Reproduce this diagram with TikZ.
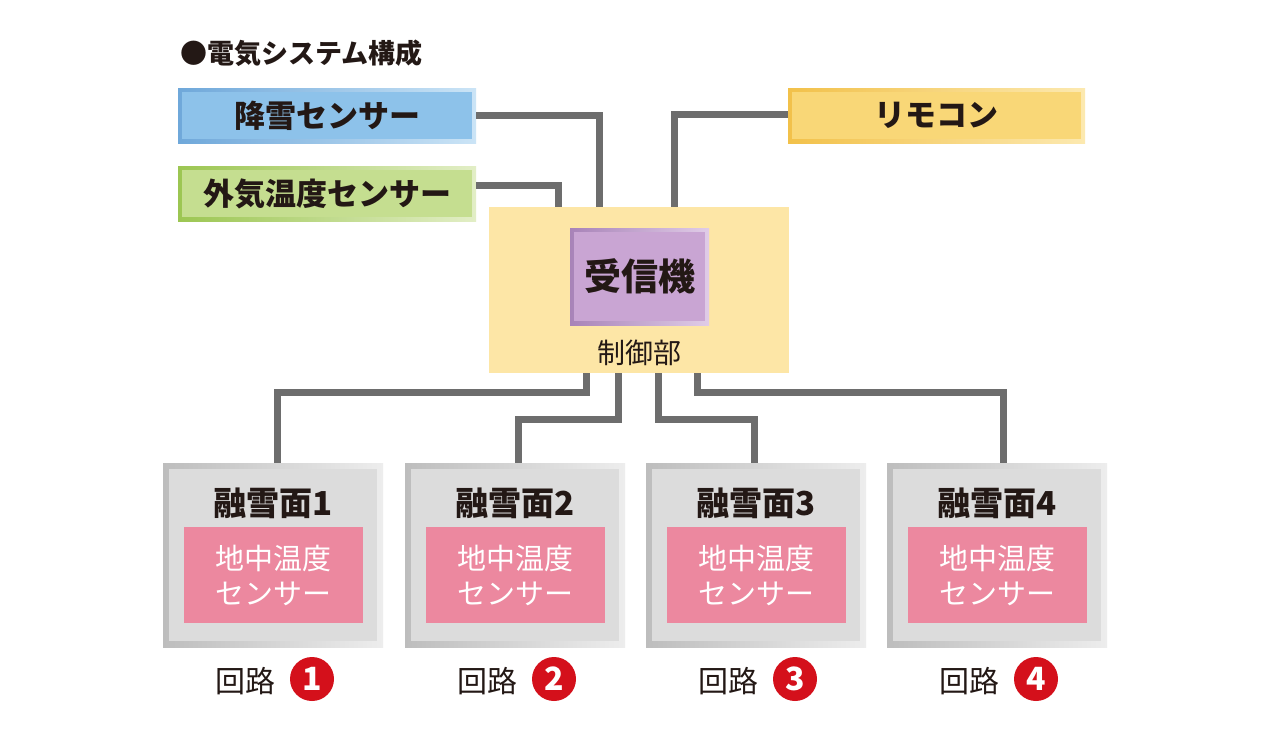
\documentclass[tikz,border=0pt]{standalone}
\usepackage{fontspec}
\setmainfont{Noto Sans CJK JP}
\usetikzlibrary{calc}
\definecolor{snowM}{HTML}{8DC2EA}
\definecolor{snowD}{HTML}{6FA8DA}
\definecolor{snowL}{HTML}{CBE4F6}
\definecolor{outM}{HTML}{C5DE90}
\definecolor{outD}{HTML}{9CC652}
\definecolor{outL}{HTML}{E2EEC6}
\definecolor{remM}{HTML}{F9D777}
\definecolor{remD}{HTML}{F2C14A}
\definecolor{remL}{HTML}{FCE9B0}
\definecolor{ctrlY}{HTML}{FDE6A6}
\definecolor{recvM}{HTML}{C9A5D3}
\definecolor{recvD}{HTML}{A883B8}
\definecolor{recvL}{HTML}{E0CCE7}
\definecolor{grayM}{HTML}{DCDCDC}
\definecolor{grayD}{HTML}{BDBDBD}
\definecolor{grayL}{HTML}{EDEDED}
\definecolor{pinkM}{HTML}{EC889F}
\definecolor{wireG}{HTML}{6D6D6D}
\definecolor{redC}{HTML}{D4101B}
\definecolor{txt}{HTML}{231815}
\newcommand{\fsz}[1]{\fontsize{#1}{#1}\selectfont}
\tikzset{
  framedbox/.style n args={4}{inner sep=0pt, outer sep=0pt, left color=#1, right color=#2,
    path picture={\fill[#3] ([shift={(#4,-#4)}]path picture bounding box.north west)
      rectangle ([shift={(-#4,#4)}]path picture bounding box.south east);}},
  wire/.style={draw=wireG, line width=7pt},
  toptext/.style={font=\bfseries\fsz{31}, text=txt},
  fieldbox/.style={framedbox={grayD}{grayL}{grayM}{6pt}, minimum width=220pt, minimum height=184pt},
  fieldtitle/.style={font=\bfseries\fsz{33}, text=txt, inner sep=0pt},
  sensorbox/.style={fill=pinkM, minimum width=179pt, minimum height=96pt, inner sep=0pt,
    text=white, align=center, font=\fontsize{29}{35}\selectfont},
  circuitlbl/.style={font=\fsz{30}, text=txt, inner sep=0pt},
  numcirc/.style={circle, fill=redC, minimum size=44pt, inner sep=0pt, text=white, font=\bfseries\fsz{32}}
}
\begin{document}
\begin{tikzpicture}[x=1pt,y=-1pt]
\useasboundingbox (0,0) rectangle (1267,729);
\fill[white] (0,0) rectangle (1267,729);

\node[anchor=west, inner sep=0pt, font=\bfseries\fsz{27}, text=txt] (title) at (180,53) {●電気システム構成};

\node[framedbox={snowD}{snowL}{snowM}{4pt}, minimum width=298pt, minimum height=55pt, toptext] (snow) at (327,115.5) {降雪センサー};
\node[framedbox={outD}{outL}{outM}{4pt}, minimum width=298pt, minimum height=55pt, toptext] (outside) at (327,193.5) {外気温度センサー};
\node[framedbox={remD}{remL}{remM}{4pt}, minimum width=297pt, minimum height=55pt, toptext] (remote) at (936.5,115.5) {リモコン};

\node[fill=ctrlY, minimum width=300pt, minimum height=166pt, inner sep=0pt, outer sep=0pt] (ctrl) at (639,290) {};
\node[framedbox={recvD}{recvL}{recvM}{4pt}, minimum width=139pt, minimum height=97pt, font=\bfseries\fsz{37}, text=txt] (recv) at (639.5,276.5) {受信機};
\node[font=\fsz{28}, text=txt, inner sep=0pt] (ctrllbl) at (639,353) {制御部};

\foreach \i/\x in {1/273,2/515,3/756,4/997}{
  \node[fieldbox] (f\i) at (\x,555) {};
  \node[fieldtitle] (ft\i) at ($(f\i.north)+(0,40)$) {融雪面\i};
  \node[sensorbox] (s\i) at ($(f\i.north)+(0.5,112)$) {地中温度\\センサー};
  \node[circuitlbl] (c\i) at ($(f\i.south)+(-28,34)$) {回路};
  \node[numcirc] (n\i) at ($(f\i.south)+(39,32)$) {\i};
}

\draw[wire] (snow.east) -| ([xshift=110pt]ctrl.north west);
\draw[wire] ([yshift=8pt]outside.east) -| ([xshift=69pt]ctrl.north west);
\draw[wire] ([yshift=1pt]remote.west) -| ([xshift=-115pt]ctrl.north east);

\draw[wire] ([xshift=97pt]ctrl.south west) -- ++(0,19) -| ([xshift=4pt]f1.north);
\draw[wire] ([xshift=129pt]ctrl.south west) -- ++(0,46) -| ([xshift=3pt]f2.north);
\draw[wire] ([xshift=169pt]ctrl.south west) -- ++(0,46) -| ([xshift=-2pt]f3.north);
\draw[wire] ([xshift=208pt]ctrl.south west) -- ++(0,19) -| ([xshift=6pt]f4.north);
\end{tikzpicture}
\end{document}
